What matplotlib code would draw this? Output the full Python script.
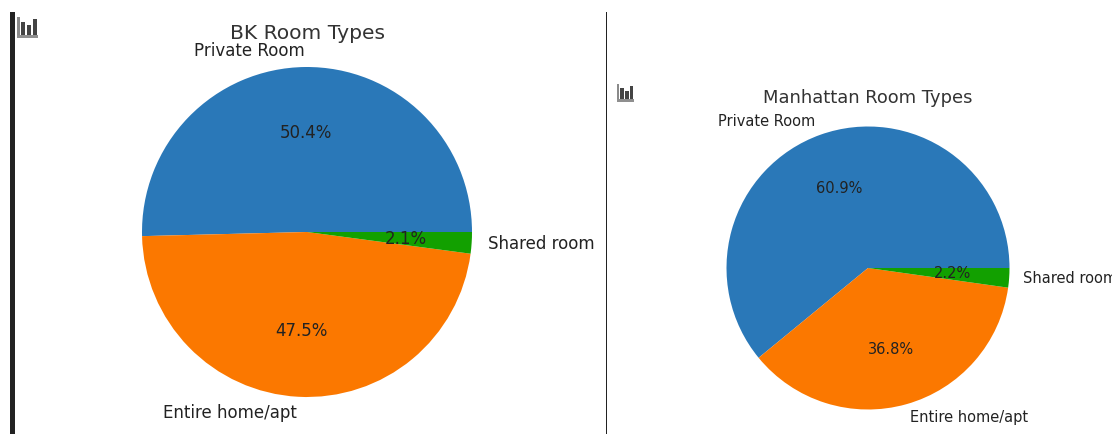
import matplotlib.pyplot as plt
from matplotlib.patches import Rectangle

W, H = 1112, 434

labels = ['Private Room', 'Entire home/apt', 'Shared room']
bk_values = [50.4, 47.5, 2.1]
man_values = [60.94, 36.84, 2.22]
colors = ['#2a78b8', '#fb7800', '#12a000']


def pie_axes(fig, cx, cy, r):
    # pie radius is 1 in a box of +-1.25
    b = r * 1.25
    return fig.add_axes([(cx - b) / W, 1 - (cy + b) / H, 2 * b / W, 2 * b / H])


def px_rect(fig, x0, y0, x1, y1, c):
    fig.add_artist(Rectangle((x0 / W, 1 - y1 / H), (x1 - x0) / W, (y1 - y0) / H,
                             color=c, lw=0, transform=fig.transFigure))


def stat_icon(fig, x, y, w, h):
    # small bar chart icon at the corner of each notebook output
    px_rect(fig, x, y, x + 0.12 * w, y + h, '#8a8a8a')
    px_rect(fig, x, y + 0.86 * h, x + w, y + h, '#8f8f8f')
    for dx, top in zip((0.2, 0.48, 0.76), (0.24, 0.4, 0.1)):
        px_rect(fig, x + dx * w, y + top * h, x + (dx + 0.2) * w, y + 0.86 * h, '#444444')


fig = plt.figure(figsize=(W / 100, H / 100), dpi=100)

ax = pie_axes(fig, 307, 232, 165)
ax.pie(bk_values, labels=labels, colors=colors, autopct='%1.1f%%',
       textprops={'fontsize': 12, 'color': '#222222'})
ax.text(0, 1.205, 'BK Room Types', fontsize=14.6, color='#333333', ha='center', va='center')

ax2 = pie_axes(fig, 868, 268, 141.5)
ax2.pie(man_values, labels=labels, colors=colors, autopct='%1.1f%%',
        textprops={'fontsize': 10.5, 'color': '#222222'})
ax2.text(0, 1.203, 'Manhattan Room Types', fontsize=12.9, color='#333333', ha='center', va='center')

px_rect(fig, 10, 12, 14.5, H, '#222222')
px_rect(fig, 606, 12, 607.3, H, '#222222')
stat_icon(fig, 17, 17, 21, 21)
stat_icon(fig, 617, 84, 17, 18)

fig.savefig('out.png', dpi=100)
